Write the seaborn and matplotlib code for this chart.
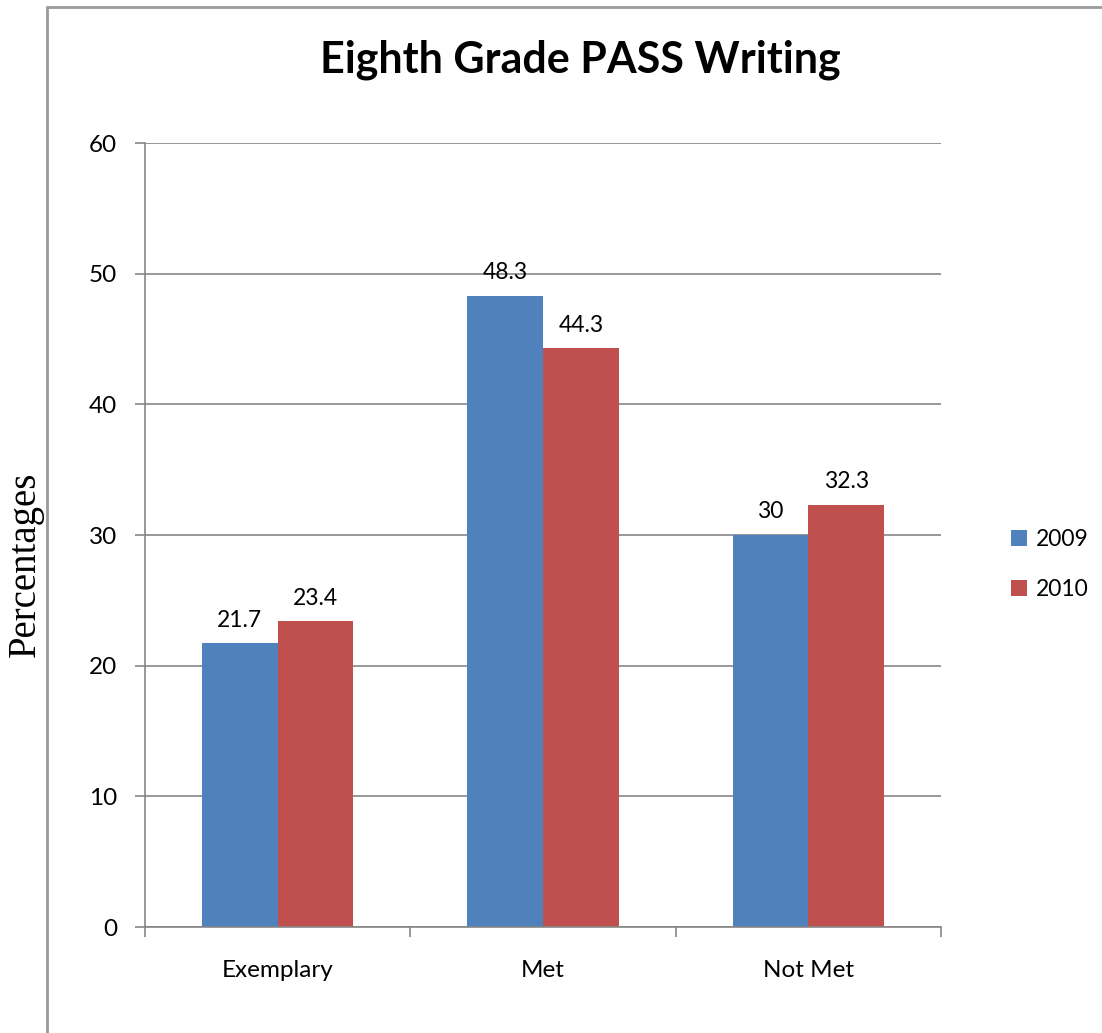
import matplotlib
matplotlib.use("Agg")
import matplotlib.pyplot as plt
import seaborn as sns
import pandas as pd
from matplotlib.lines import Line2D

categories = ["Exemplary", "Met", "Not Met"]
years = ["2009", "2010"]
values_2009 = [21.7, 48.3, 30]
values_2010 = [23.4, 44.3, 32.3]
label_2009 = ["21.7", "48.3", "30"]
label_2010 = ["23.4", "44.3", "32.3"]
y_ticks = [0, 10, 20, 30, 40, 50, 60]

sns.set_theme(style="white")
plt.rcParams['font.family'] = ['Lato', 'DejaVu Sans']
plt.rcParams['text.color'] = 'black'
plt.rcParams['xtick.labelcolor'] = 'black'
plt.rcParams['ytick.labelcolor'] = 'black'

df = pd.DataFrame({
    "Category": categories * 2,
    "Year": [years[0]] * 3 + [years[1]] * 3,
    "Value": values_2009 + values_2010,
})

fig = plt.figure(figsize=(11.02, 10.33), dpi=100)
ax = fig.add_axes([145/1102, 106/1033, 796/1102, 784/1033])

sns.barplot(data=df, x="Category", y="Value", hue="Year",
            palette=["#4F81BD", "#C0504D"], width=2/3.5, ax=ax,
            saturation=1, gap=0, edgecolor="none", linewidth=0)

for cont, labs in zip(ax.containers, [label_2009, label_2010]):
    ax.bar_label(cont, labels=labs, padding=9, fontsize=16.5, color="black")

ax.set_xlim(-0.5, 2.5)
ax.set_ylim(0, 60)
ax.set_yticks(y_ticks)
ax.yaxis.grid(True, color="#868686", linewidth=1.2)
ax.set_axisbelow(True)
for s in ["top", "right"]:
    ax.spines[s].set_visible(False)
for s in ["left", "bottom"]:
    ax.spines[s].set_color("#868686")
    ax.spines[s].set_linewidth(1.2)

ax.set_xticks([0, 1, 2])
ax.set_xticks([-0.5, 0.5, 1.5, 2.5], minor=True)
ax.tick_params(axis="x", which="major", length=0, pad=24, labelsize=17.5, labelcolor="black")
ax.tick_params(axis="x", which="minor", length=7, width=1.2, color="#868686", direction="out", bottom=True)
ax.tick_params(axis="y", which="major", length=7, width=1.2, color="#868686", direction="out", left=True, pad=13, labelsize=17.5, labelcolor="black")
ax.set_xlabel("")
ax.set_ylabel("Percentages", family=["Liberation Serif"], fontsize=28, color="black")
ax.yaxis.set_label_coords(-0.127, 0.462)

ax.legend(loc="center left", bbox_to_anchor=(1.088, 0.462), frameon=False,
          fontsize=16.5, handlelength=0.7, handleheight=0.7, labelspacing=1.25,
          handletextpad=0.4, borderpad=0, borderaxespad=0)

fig.suptitle("Eighth Grade PASS Writing", x=580/1102, y=1 - 60/1033, va="center",
             fontsize=31, fontweight="bold", color="black")

fig.add_artist(Line2D([47/1102, 47/1102], [0, 1 - 7/1033], transform=fig.transFigure, color="#9a9a9a", linewidth=2))
fig.add_artist(Line2D([47/1102, 1], [1 - 7/1033, 1 - 7/1033], transform=fig.transFigure, color="#9a9a9a", linewidth=2))

fig.savefig("out.png", dpi=100)
